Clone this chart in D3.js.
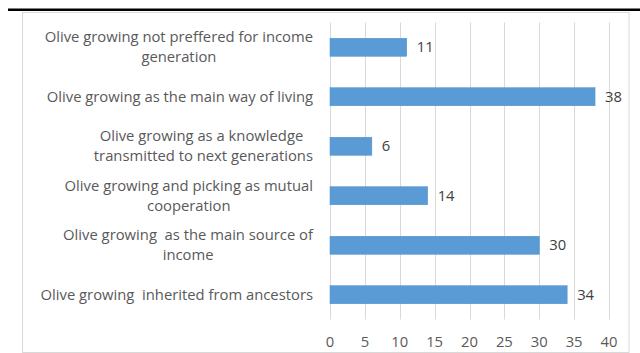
<!DOCTYPE html>
<html>
<head>
<meta charset="utf-8">
<script src="https://cdn.jsdelivr.net/npm/d3@7"></script>
<style>
  body { margin: 0; background: #fff; }
  svg text { font-family: "Open Sans", Lato, sans-serif; white-space: pre; }
</style>
</head>
<body>
<svg id="drawing_region"></svg>
<script>
// categories top to bottom, lines split where the original wraps
const categories = [
    "Olive growing not preffered for income\ngeneration",
    "Olive growing as the main way of living",
    "Olive growing as a knowledge \ntransmitted to next generations",
    "Olive growing and picking as mutual\ncooperation",
    "Olive growing  as the main source of\nincome",
    "Olive growing  inherited from ancestors"
];
const values = [11, 38, 6, 14, 30, 34];
const xTicks = [0, 5, 10, 15, 20, 25, 30, 35, 40];

const config = {
    width: 640,
    height: 353,
    plot: { left: 330, right: 609, top: 22.5, bottom: 319.5 },
    box: { x: 22.5, y: 12.5, w: 606.5, h: 340 },
    fontSize: '14.8px'
};

const svg = d3.select('#drawing_region')
    .attr('width', config.width)
    .attr('height', config.height);

// black rule at the top
svg.append('rect')
    .attr('x', 8).attr('y', 8.5)
    .attr('width', 632).attr('height', 2.5)
    .attr('fill', '#000');

// chart frame
svg.append('rect')
    .attr('x', config.box.x).attr('y', config.box.y)
    .attr('width', config.box.w).attr('height', config.box.h)
    .attr('fill', 'none')
    .attr('stroke', '#d9d9d9')
    .attr('stroke-width', 1);

const x = d3.scaleLinear()
    .domain([0, 40])
    .range([config.plot.left, config.plot.right]);

const y = d3.scaleBand()
    .domain(categories)
    .range([config.plot.top, config.plot.bottom])
    .paddingInner(0.636)
    .paddingOuter(0.318);

// vertical gridlines
svg.append('g')
    .selectAll('line')
    .data(xTicks)
    .join('line')
    .attr('x1', d => Math.round(x(d)) + 0.5)
    .attr('x2', d => Math.round(x(d)) + 0.5)
    .attr('y1', config.plot.top)
    .attr('y2', config.plot.bottom)
    .attr('stroke', '#d9d9d9')
    .attr('stroke-width', 1);

// x tick labels
svg.append('g')
    .selectAll('text')
    .data(xTicks)
    .join('text')
    .attr('x', d => x(d))
    .attr('y', 342)
    .attr('dy', '0.35em')
    .attr('text-anchor', 'middle')
    .attr('fill', '#595959')
    .style('font-size', config.fontSize)
    .text(d => d);

// bars
svg.append('g')
    .selectAll('rect')
    .data(values)
    .join('rect')
    .attr('x', x(0))
    .attr('y', (d, i) => y(categories[i]))
    .attr('width', d => x(d) - x(0))
    .attr('height', y.bandwidth())
    .attr('fill', '#5b9bd5')
    .attr('stroke', '#4a90d0')
    .attr('stroke-width', 0.5);

// value labels
svg.append('g')
    .selectAll('text')
    .data(values)
    .join('text')
    .attr('x', d => x(d) + 10)
    .attr('y', (d, i) => y(categories[i]) + y.bandwidth() / 2)
    .attr('dy', '0.35em')
    .attr('fill', '#404040')
    .style('font-size', config.fontSize)
    .text(d => d);

// category labels: block right aligned, lines centred among themselves
const lineH = 20;
const labelRight = 313;
const labels = svg.append('g');
categories.forEach(c => {
    const lines = c.split('\n');
    const cy = y(c) + y.bandwidth() / 2;
    const g = labels.append('g');
    const texts = g.selectAll('text')
        .data(lines)
        .join('text')
        .attr('y', (d, i) => cy + (i - (lines.length - 1) / 2) * lineH)
        .attr('dy', '0.35em')
        .attr('text-anchor', 'middle')
        .attr('fill', '#595959')
        .style('font-size', config.fontSize)
        .text(d => d);
    let maxW = 0;
    texts.each(function() { maxW = Math.max(maxW, this.getComputedTextLength()); });
    texts.attr('x', labelRight - maxW / 2);
});
</script>
</body>
</html>
